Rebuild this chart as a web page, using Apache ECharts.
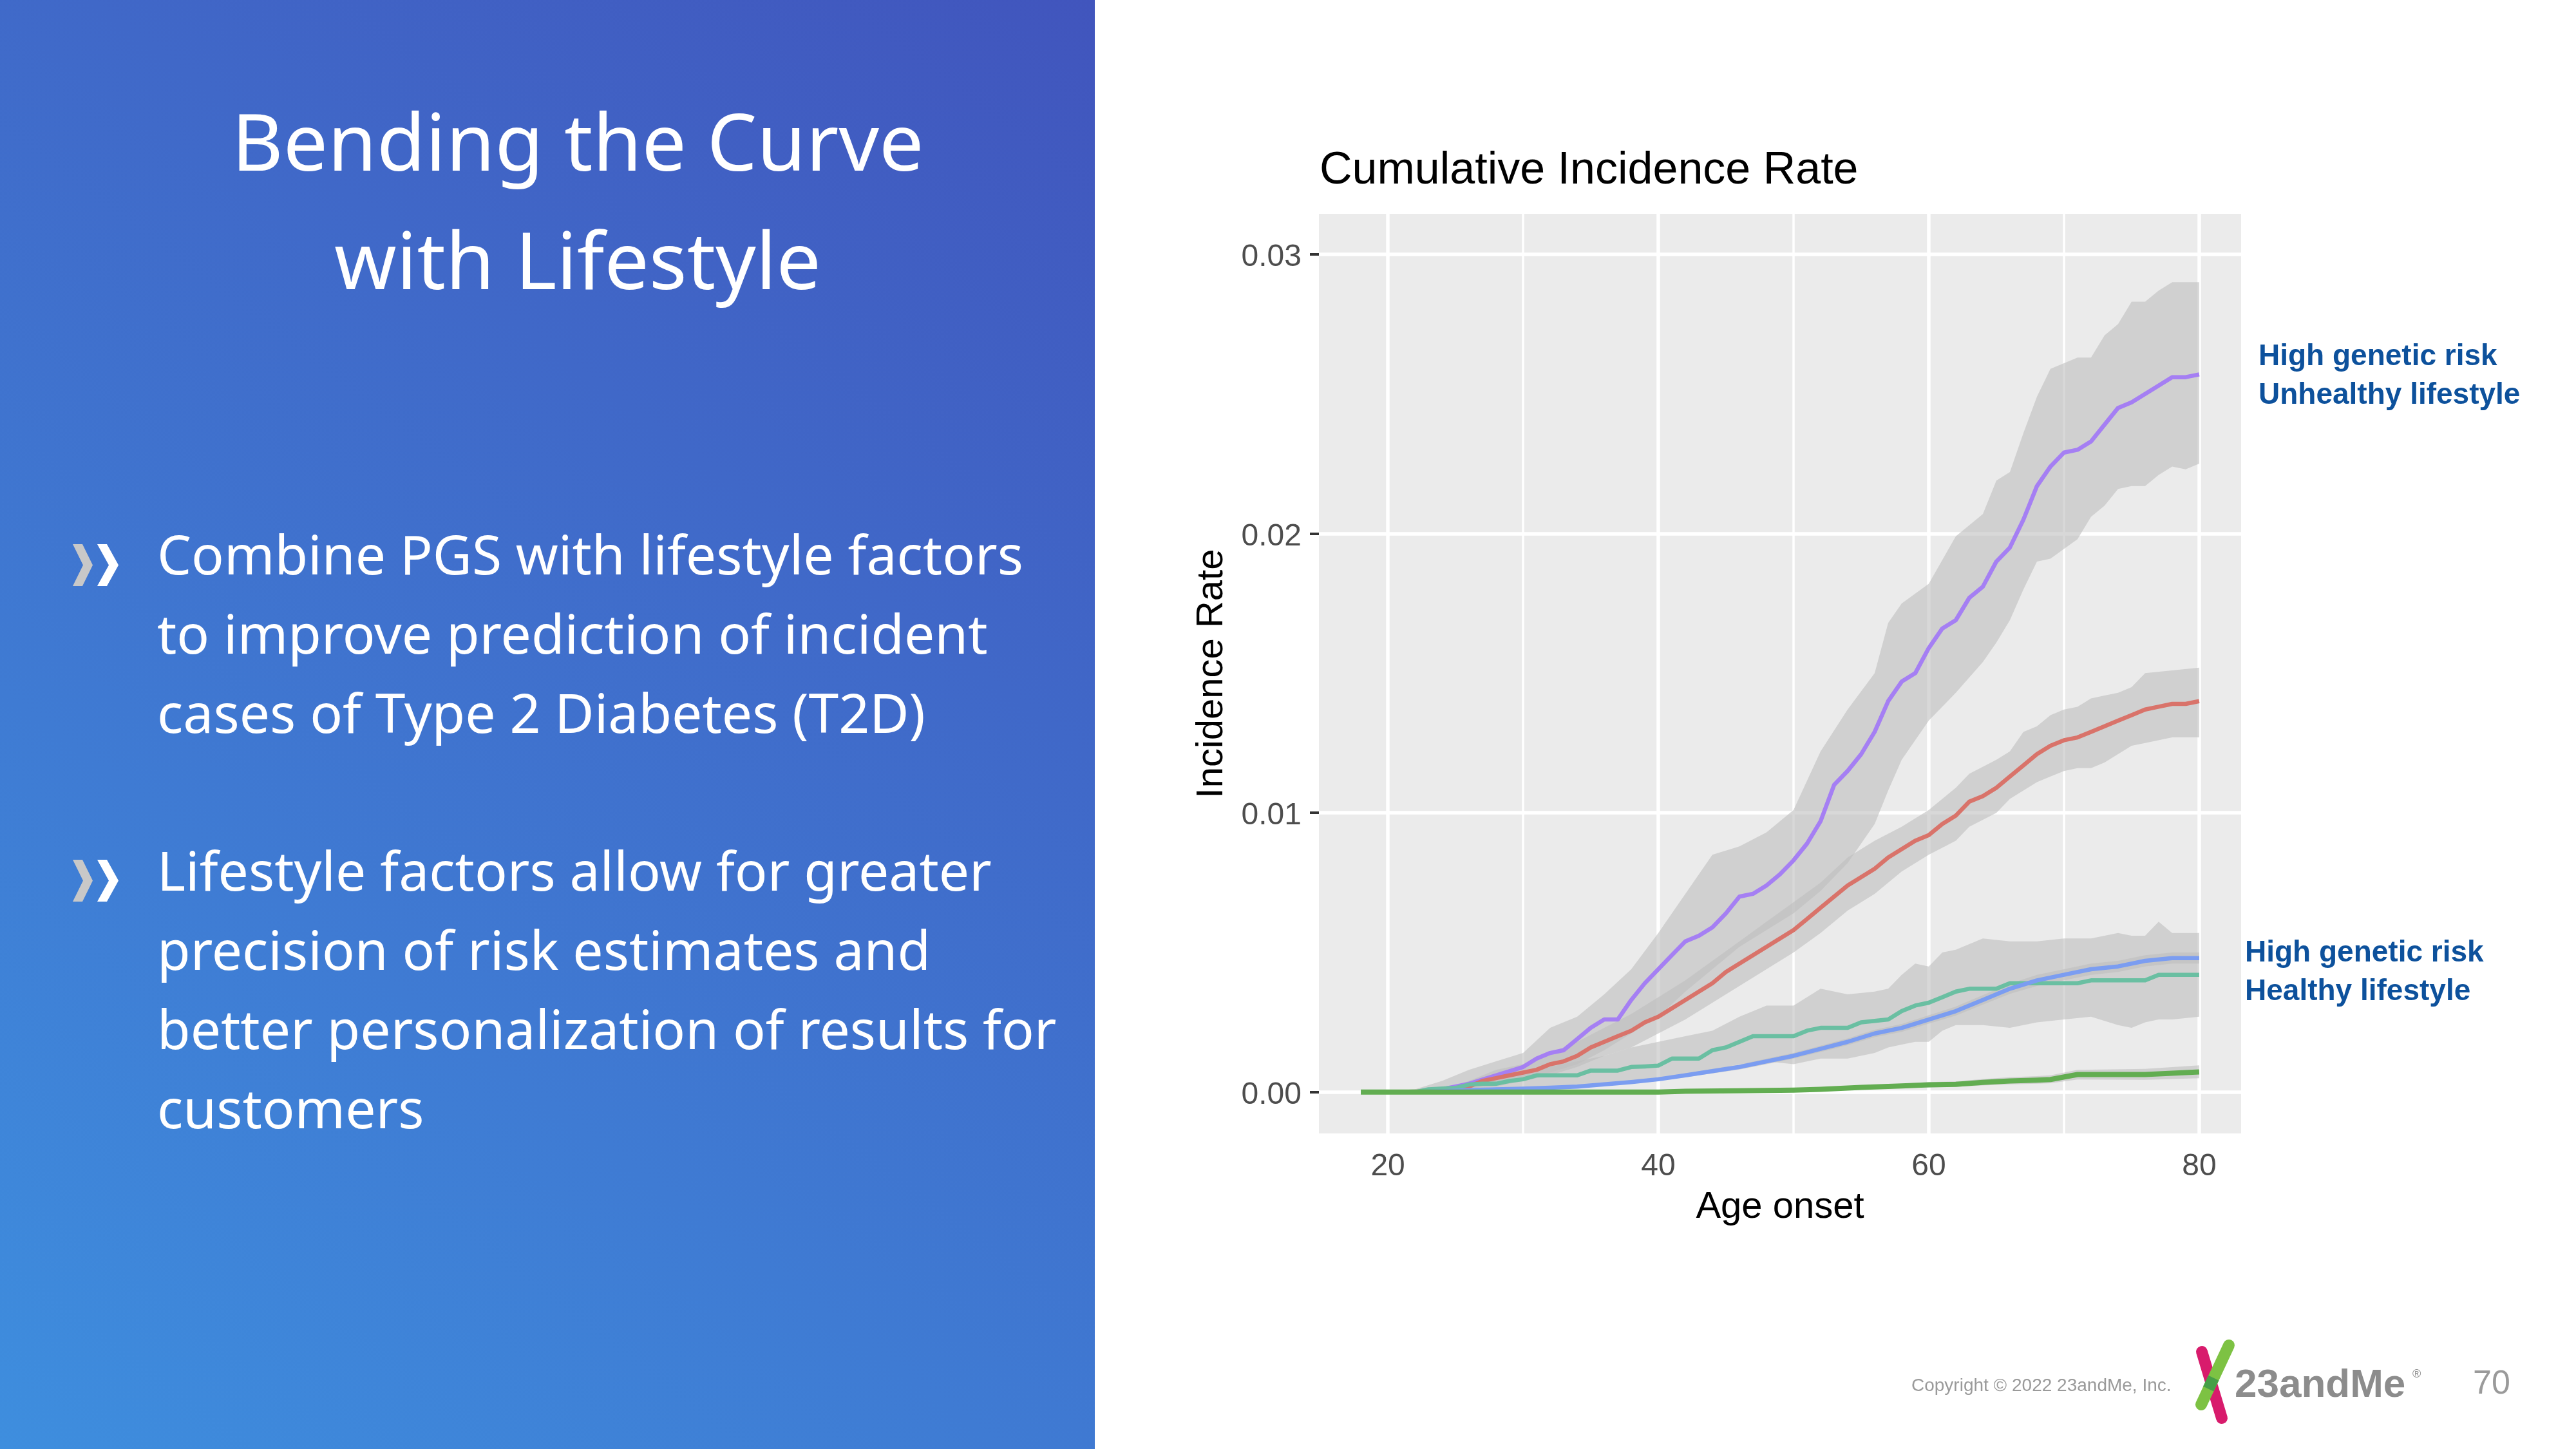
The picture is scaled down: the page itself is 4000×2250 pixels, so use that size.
<!DOCTYPE html>
<html>
<head>
<meta charset="utf-8">
<script src="https://cdn.jsdelivr.net/npm/echarts@6/dist/echarts.min.js"></script>
<style>
html,body{margin:0;padding:0;background:#ffffff;}
#chart{width:4000px;height:2250px;}
</style>
</head>
<body>
<div id="chart"></div>
<script>
// ---------------- DATA ----------------
const xTicks = [20, 40, 60, 80];
const xMinor = [30, 50, 70];
const yTicks = [0, 0.01, 0.02, 0.03];
const yMinor = [0.005, 0.015, 0.025];

const purpleAge = [18,22,24,25,26,27,28,29,30,31,32,33,34,35,36,37,38,39,40,41,42,43,44,45,46,47,48,49,50,51,52,53,54,55,56,57,58,59,60,61,62,63,64,65,66,67,68,69,70,71,72,73,74,75,76,77,78,79,80];
const purpleVal = [0,0,0.0001,0.0002,0.0003,0.00045,0.0006,0.00075,0.0009,0.0012,0.0014,0.0015,0.0019,0.0023,0.0026,0.0026,0.0033,0.0039,0.0044,0.0049,0.0054,0.0056,0.0059,0.0064,0.0070,0.0071,0.0074,0.0078,0.0083,0.0089,0.0097,0.0110,0.0115,0.0121,0.0129,0.0140,0.0147,0.0150,0.0159,0.0166,0.0169,0.0177,0.0181,0.0190,0.0195,0.0205,0.0217,0.0224,0.0229,0.0230,0.0233,0.0239,0.0245,0.0247,0.0250,0.0253,0.0256,0.0256,0.0257];
const purpleBandAge = [18,22,24,26,28,30,32,34,36,38,40,42,44,46,48,50,52,54,56,57,58,60,62,64,65,66,67,68,69,71,72,73,74,75,76,77,78,79,80];
const purpleLo = [0,0,0,0.0001,0.0002,0.0004,0.0007,0.0010,0.0015,0.0021,0.0027,0.0036,0.0044,0.0052,0.0058,0.0064,0.0072,0.0082,0.0096,0.0108,0.0119,0.0133,0.0143,0.0154,0.0161,0.0169,0.0180,0.0190,0.0191,0.0198,0.0206,0.0210,0.0216,0.0217,0.0217,0.0221,0.0224,0.0223,0.0225];
const purpleHi = [0,0.0001,0.0004,0.0008,0.0011,0.0014,0.0023,0.0027,0.0035,0.0044,0.0057,0.0071,0.0085,0.0088,0.0093,0.0101,0.0122,0.0137,0.0150,0.0168,0.0175,0.0182,0.0199,0.0207,0.0219,0.0222,0.0236,0.0249,0.0259,0.0263,0.0263,0.0271,0.0275,0.0283,0.0283,0.0287,0.0290,0.0290,0.0290];

const redAge = [18,24,25,26,27,28,29,30,31,32,33,34,35,36,37,38,39,40,41,42,43,44,45,46,47,48,49,50,51,52,53,54,55,56,57,58,59,60,61,62,63,64,65,66,67,68,69,70,71,72,73,74,75,76,77,78,79,80];
const redVal = [0,0,0.00005,0.0002,0.0004,0.0005,0.0006,0.0007,0.0008,0.0010,0.0011,0.0013,0.0016,0.0018,0.0020,0.0022,0.0025,0.0027,0.0030,0.0033,0.0036,0.0039,0.0043,0.0046,0.0049,0.0052,0.0055,0.0058,0.0062,0.0066,0.0070,0.0074,0.0077,0.0080,0.0084,0.0087,0.0090,0.0092,0.0096,0.0099,0.0104,0.0106,0.0109,0.0113,0.0117,0.0121,0.0124,0.0126,0.0127,0.0129,0.0131,0.0133,0.0135,0.0137,0.0138,0.0139,0.0139,0.0140];
const redBandAge = [18,24,26,28,30,32,34,36,38,40,42,44,46,48,50,52,54,56,58,60,62,63,65,66,67,68,69,70,71,72,73,74,75,76,78,80];
const redLo = [0,0,0.0001,0.0003,0.0004,0.0006,0.0009,0.0013,0.0016,0.0021,0.0026,0.0032,0.0038,0.0044,0.0050,0.0057,0.0065,0.0071,0.0079,0.0085,0.0090,0.0095,0.0100,0.0105,0.0108,0.0111,0.0113,0.0115,0.0116,0.0116,0.0118,0.0121,0.0124,0.0125,0.0127,0.0127];
const redHi = [0,0.0001,0.0004,0.0008,0.0010,0.0014,0.0018,0.0023,0.0028,0.0034,0.0040,0.0047,0.0054,0.0061,0.0068,0.0075,0.0084,0.0090,0.0095,0.0101,0.0109,0.0114,0.0119,0.0122,0.0129,0.0131,0.0135,0.0137,0.0138,0.0141,0.0142,0.0143,0.0145,0.0150,0.0151,0.0152];

const tealAge = [18,22,23,25,26,27,28,29,30,31,33,34,35,37,38,39,40,41,43,44,45,46,47,50,51,52,54,55,57,58,59,60,61,62,63,65,66,71,72,76,77,80];
const tealVal = [0,0,0.0001,0.00015,0.00027,0.0003,0.0003,0.0004,0.00046,0.0006,0.0006,0.0006,0.00077,0.00077,0.0009,0.00092,0.00095,0.0012,0.0012,0.0015,0.0016,0.0018,0.0020,0.0020,0.0022,0.0023,0.0023,0.0025,0.0026,0.0029,0.0031,0.0032,0.0034,0.0036,0.0037,0.0037,0.0039,0.0039,0.0040,0.0040,0.0042,0.0042];
const tealBandAge = [18,22,24,26,28,30,32,34,36,38,40,42,44,46,48,50,52,54,56,57,58,59,60,61,62,64,66,68,70,72,74,75,76,77,78,80];
const tealLo = [0,0,0,0.00005,0.0001,0.0001,0.0002,0.0002,0.0003,0.0004,0.0005,0.0006,0.0008,0.0010,0.0011,0.0010,0.0012,0.0012,0.0014,0.0016,0.0017,0.0018,0.0018,0.0022,0.0024,0.0024,0.0023,0.0025,0.0026,0.0027,0.0024,0.0023,0.0025,0.0026,0.0026,0.0027];
const tealHi = [0,0.0001,0.0002,0.0003,0.0005,0.0007,0.0009,0.0011,0.0013,0.0016,0.0018,0.0020,0.0022,0.0027,0.0031,0.0031,0.0037,0.0035,0.0036,0.0037,0.0042,0.0046,0.0045,0.0050,0.0051,0.0055,0.0054,0.0054,0.0055,0.0055,0.0057,0.0056,0.0056,0.0061,0.0057,0.0057];

const blueAge = [18,22,24,26,28,30,32,34,36,38,40,42,44,46,48,50,52,54,56,58,60,62,64,66,68,70,72,74,76,78,80];
const blueVal = [0,0,0.00003,0.00007,0.0001,0.00012,0.00016,0.0002,0.00028,0.00036,0.00046,0.0006,0.00075,0.0009,0.0011,0.0013,0.00155,0.0018,0.0021,0.0023,0.0026,0.0029,0.0033,0.0037,0.0040,0.0042,0.0044,0.0045,0.0047,0.0048,0.0048];
const blueLo = [0,0,0.00001,0.00004,0.00007,0.00009,0.00012,0.00016,0.00023,0.0003,0.0004,0.00053,0.00067,0.00081,0.001,0.0012,0.00144,0.00168,0.00197,0.00216,0.00245,0.00274,0.00313,0.00352,0.0038,0.004,0.0042,0.0043,0.0045,0.0046,0.0046];
const blueHi = [0,0.00001,0.00005,0.0001,0.00013,0.00015,0.0002,0.00024,0.00033,0.00042,0.00052,0.00067,0.00083,0.00099,0.0012,0.0014,0.00166,0.00192,0.00223,0.00244,0.00275,0.00306,0.00347,0.00388,0.0042,0.0044,0.0046,0.0047,0.0049,0.005,0.005];

const greenAge = [18,40,42,46,50,52,55,58,60,62,64,66,68,69,71,76,80];
const greenVal = [0,0,0.00003,0.00005,0.00007,0.0001,0.00017,0.00022,0.00026,0.00028,0.00035,0.0004,0.00043,0.00045,0.00063,0.00063,0.00072];
const greenLo = [0,0,0.00001,0.00002,0.00003,0.00005,0.0001,0.00014,0.00017,0.00019,0.00024,0.00028,0.0003,0.00032,0.00045,0.00044,0.0005];
const greenHi = [0,0.00001,0.00005,0.00008,0.00011,0.00015,0.00024,0.0003,0.00036,0.00038,0.00047,0.00053,0.00057,0.0006,0.0008,0.00083,0.00096];

// ---------------- CHART ----------------
const chart = echarts.init(document.getElementById('chart'), null, {renderer:'canvas', width:4000, height:2250});

const SANS = 'Noto Sans';
const ARIAL = 'Liberation Sans';
const RIBBON = 'rgba(190,190,190,0.6)';

function ribbon(name, ages, lo, hi) {
  const data = ages.map((a, i) => [a, lo[i], hi[i]]);
  return {
    type: 'custom', name: name, coordinateSystem: 'cartesian2d', silent: true, z: 2,
    data: data, encode: {x: 0, y: [1, 2]}, animation: false,
    renderItem: function (params, api) {
      if (params.dataIndex !== 0) return null;
      const pts = [];
      for (let j = 0; j < data.length; j++) pts.push(api.coord([data[j][0], data[j][2]]));
      for (let j = data.length - 1; j >= 0; j--) pts.push(api.coord([data[j][0], data[j][1]]));
      return {type: 'polygon', shape: {points: pts}, style: {fill: RIBBON}};
    }
  };
}
function line(name, ages, vals, color, width) {
  return {
    type: 'line', name: name, data: ages.map((a, i) => [a, vals[i]]),
    showSymbol: false, symbol: 'none', silent: true, z: 3, animation: false,
    lineStyle: {color: color, width: width || 6.5, cap: 'butt', join: 'round'}
  };
}

const gridLines = [];
xTicks.forEach(v => gridLines.push({xAxis: v, lineStyle: {color: '#ffffff', width: 5.5, type: 'solid'}}));
xMinor.forEach(v => gridLines.push({xAxis: v, lineStyle: {color: '#ffffff', width: 3.5, type: 'solid'}}));
yTicks.forEach(v => gridLines.push({yAxis: v, lineStyle: {color: '#ffffff', width: 5.5, type: 'solid'}}));
yMinor.forEach(v => gridLines.push({yAxis: v, lineStyle: {color: '#ffffff', width: 3.5, type: 'solid'}}));

function txt(text, x, y, size, color, family, extra) {
  return Object.assign({
    type: 'text', x: x, y: y, silent: true,
    style: Object.assign({text: text, fill: color, fontSize: size, fontFamily: family,
      align: 'left', verticalAlign: 'middle'}, (extra && extra.style) || {})
  }, (extra && extra.el) || {});
}
function chevron(x0, y0, w, h, t, color) {
  return {type: 'polygon', silent: true, shape: {points: [
    [x0, y0], [x0 + t, y0], [x0 + w, y0 + h / 2], [x0 + t, y0 + h], [x0, y0 + h], [x0 + w - t, y0 + h / 2]
  ]}, style: {fill: color}};
}

const bullet1 = ['Combine PGS with lifestyle factors', 'to improve prediction of incident', 'cases of Type 2 Diabetes (T2D)'];
const bullet2 = ['Lifestyle factors allow for greater', 'precision of risk estimates and', 'better personalization of results for', 'customers'];

const graphics = [
  {type: 'rect', silent: true, z: -10, shape: {x: 0, y: 0, width: 1700, height: 2250},
   style: {fill: new echarts.graphic.LinearGradient(0, 1, 1, 0, [
     {offset: 0, color: '#3E8EDE'}, {offset: 1, color: '#4155BD'}])}},
  txt('Bending the Curve', 897, 230, 123, '#ffffff', SANS, {style: {align: 'center'}}),
  txt('with Lifestyle', 897, 414, 123, '#ffffff', SANS, {style: {align: 'center'}}),
  chevron(113, 845, 31, 65, 15, '#C8C8C8'),
  chevron(151, 845, 33, 65, 15, '#ffffff'),
  chevron(113, 1335, 31, 65, 15, '#C8C8C8'),
  chevron(151, 1335, 33, 65, 15, '#ffffff'),
  // chart texts
  txt('Cumulative Incidence Rate', 2049, 266, 70, '#000000', ARIAL),
  txt('Age onset', 2764, 1875, 58, '#000000', ARIAL, {style: {align: 'center'}}),
  txt('Incidence Rate', 1882, 1046, 58, '#000000', ARIAL, {style: {align: 'center'}, el: {rotation: Math.PI / 2}}),
  txt('High genetic risk', 3507, 554, 46, '#0D519C', ARIAL, {style: {fontWeight: 'bold'}}),
  txt('Unhealthy lifestyle', 3507, 614, 46, '#0D519C', ARIAL, {style: {fontWeight: 'bold'}}),
  txt('High genetic risk', 3486, 1480, 46, '#0D519C', ARIAL, {style: {fontWeight: 'bold'}}),
  txt('Healthy lifestyle', 3486, 1540, 46, '#0D519C', ARIAL, {style: {fontWeight: 'bold'}}),
  // footer
  txt('Copyright \u00A9 2022 23andMe, Inc.', 2968, 2152, 28, '#9A9A9A', ARIAL),
  {type: 'line', silent: true, shape: {x1: 3419, y1: 2099, x2: 3450, y2: 2202}, style: {stroke: '#D81B6C', lineWidth: 18, lineCap: 'round'}},
  {type: 'line', silent: true, shape: {x1: 3461, y1: 2089, x2: 3418, y2: 2181}, style: {stroke: '#7DC243', lineWidth: 18, lineCap: 'round'}},
  {type: 'line', silent: true, shape: {x1: 3437.2, y1: 2139.7, x2: 3429.2, y2: 2156.6}, style: {stroke: '#469F47', lineWidth: 18, lineCap: 'butt'}},
  txt('23andMe', 3470, 2152, 62, '#8C8C8C', ARIAL, {style: {fontWeight: 'bold'}}),
  txt('\u00AE', 3746, 2134, 18, '#8C8C8C', ARIAL),
  txt('70', 3840, 2150, 52, '#9A9A9A', ARIAL)
];
bullet1.forEach((s, i) => graphics.push(txt(s, 244, 868 + i * 123, 84, '#ffffff', SANS)));
bullet2.forEach((s, i) => graphics.push(txt(s, 244, 1359 + i * 123, 84, '#ffffff', SANS)));

const option = {
  animation: false,
  backgroundColor: '#ffffff',
  grid: {left: 2048, top: 332, width: 1432, height: 1428, show: true, backgroundColor: '#EBEBEB', borderWidth: 0},
  xAxis: {
    type: 'value', min: 14.9, max: 83.1,
    axisLine: {show: false},
    axisTick: {show: true, customValues: xTicks, length: 14, lineStyle: {color: '#333333', width: 4}},
    axisLabel: {customValues: xTicks, fontSize: 48, color: '#4D4D4D', fontFamily: ARIAL, margin: 28},
    splitLine: {show: false}
  },
  yAxis: {
    type: 'value', min: -0.00148, max: 0.03145,
    axisLine: {show: false},
    axisTick: {show: true, customValues: yTicks, length: 14, lineStyle: {color: '#333333', width: 4}},
    axisLabel: {customValues: yTicks, fontSize: 48, color: '#4D4D4D', fontFamily: ARIAL, margin: 27,
      verticalAlign: 'top', lineHeight: 10, formatter: v => Number(v).toFixed(2)},
    splitLine: {show: false}
  },
  graphic: {elements: graphics},
  series: [
    {type: 'line', name: 'grid', data: [[14.9, -0.00148]], showSymbol: false, symbol: 'none', silent: true, z: 1,
     lineStyle: {opacity: 0},
     markLine: {silent: true, symbol: ['none', 'none'], label: {show: false}, animation: false, z: 1, data: gridLines}},
    ribbon('purpleBand', purpleBandAge, purpleLo, purpleHi),
    ribbon('redBand', redBandAge, redLo, redHi),
    ribbon('tealBand', tealBandAge, tealLo, tealHi),
    ribbon('blueBand', blueAge, blueLo, blueHi),
    ribbon('greenBand', greenAge, greenLo, greenHi),
    line('High genetic risk, unhealthy lifestyle', purpleAge, purpleVal, '#A57FF3'),
    line('red', redAge, redVal, '#D9736A'),
    line('High genetic risk, healthy lifestyle', tealAge, tealVal, '#6ABFA2'),
    line('blue', blueAge, blueVal, '#7B9DF1'),
    line('green', greenAge, greenVal, '#62AD51', 8)
  ]
};
chart.setOption(option);
</script>
</body>
</html>
